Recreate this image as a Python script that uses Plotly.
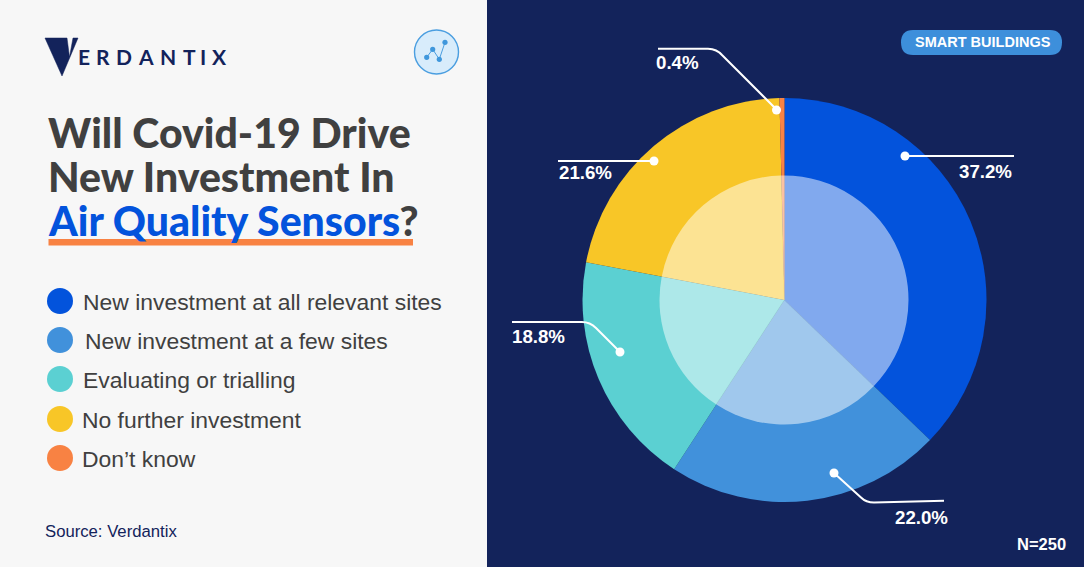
import plotly.graph_objects as go

W, H = 1084, 567
categories = ["New investment at all relevant sites", "New investment at a few sites",
              "Evaluating or trialling", "No further investment", "Don\u2019t know"]
values = [37.2, 22.0, 18.8, 21.6, 0.4]
value_labels = ["37.2%", "22.0%", "18.8%", "21.6%", "0.4%"]
colors = ["#0353DC", "#4191DB", "#5BD0D2", "#F8C627", "#F88243"]


def X(p):
    return p / W


def Y(p):
    return 1 - p / H


def dom(cx, cy, r):
    return dict(x=[X(cx - r), X(cx + r)], y=[Y(cy + r), Y(cy - r)])


CX, CY = 784.5, 300
fig = go.Figure()
common = dict(values=values, labels=categories, sort=False, direction="clockwise", rotation=0,
              textinfo="none", hoverinfo="label+value", showlegend=False)
fig.add_trace(go.Pie(domain=dom(CX, CY, 202), marker=dict(colors=colors, line=dict(width=0)), **common))
fig.add_trace(go.Pie(domain=dom(CX - 0.5, CY, 124.5),
                     marker=dict(colors=["rgba(255,255,255,0.5)"] * 5, line=dict(width=0)), **common))

shapes = []
ann = []


def rect(x0, y0, x1, y1, fill, layer="below"):
    shapes.append(dict(type="rect", xref="paper", yref="paper", x0=X(x0), x1=X(x1), y0=Y(y1), y1=Y(y0),
                       fillcolor=fill, line=dict(width=0), layer=layer))


def circle(cx, cy, r, fill, line=None, layer="above"):
    shapes.append(dict(type="circle", xref="paper", yref="paper", x0=X(cx - r), x1=X(cx + r),
                       y0=Y(cy + r), y1=Y(cy - r), fillcolor=fill,
                       line=dict(width=1.4 if line else 0, color=line or fill), layer=layer))


def path(cmds, color, width=2, fill=None, layer="above"):
    s = ""
    for c in cmds:
        s += c[0] + " " + " ".join(f"{X(c[i]):.5f},{Y(c[i + 1]):.5f}" for i in range(1, len(c), 2)) + " "
    if fill:
        s += "Z"
    shapes.append(dict(type="path", xref="paper", yref="paper", path=s,
                       line=dict(color=color, width=width), fillcolor=fill or "rgba(0,0,0,0)", layer=layer))


def text(x, y, t, size, color, anchor="left", font="Liberation Sans", bold=False, weight=None):
    f = dict(family=font, size=size, color=color)
    if weight:
        f["weight"] = weight
    ann.append(dict(xref="paper", yref="paper", x=X(x), y=Y(y), text=f"<b>{t}</b>" if bold else t,
                    showarrow=False, xanchor=anchor, yanchor="middle", align=anchor,
                    font=f, borderpad=0, borderwidth=0))


# panels
rect(0, 0, 487, H, "#F7F7F7")
rect(487, 0, W, H, "#13235B")

# logo
path([("M", 45, 38), ("L", 67, 38), ("L", 69.5, 57), ("L", 73, 38), ("L", 78, 38), ("L", 62, 76)],
     "#13235B", width=0.5, fill="#13235B")
for ch, cx in zip("ERDANTIX", [84, 103, 124, 146, 168, 189, 203, 219]):
    text(cx, 57, ch, 21, "#13235B", anchor="center", font="Lato", weight=700)

# icon
circle(436.5, 52, 22, "#D8ECFB", "#4A9EE0")
path([("M", 426.7, 57.3), ("L", 432.7, 49.3), ("L", 439.3, 59.3), ("L", 445, 42.3)], "#4A9EE0", width=1)
for px, py in [(426.7, 57.3), (432.7, 49.3), (439.3, 59.3), (445, 42.3)]:
    circle(px, py, 2.6, "#3F97DC")

# title
TF = "Lato"
TS = 41
text(48, 133, "Will Covid-19 Drive", TS, "#404040", font=TF, weight=900)
text(48, 177, "New Investment In", TS, "#404040", font=TF, weight=900)
text(48, 220, "<span style='color:#0353DC'>Air Quality Sensors</span>?", TS, "#404040", font=TF, weight=900)
rect(48.5, 239, 413, 245.5, "#F88243")

# legend
leg_y = [301, 340, 379, 419, 458]
leg_x = [83, 85, 83, 82, 82]
for name, col, ly, lx in zip(categories, colors, leg_y, leg_x):
    circle(60, ly, 13, col)
    text(lx, ly + 1, name, 22.9, "#404040")
text(45, 531, "Source: Verdantix", 16.7, "#13235B")

# leaders and labels
path([("M", 905, 156), ("L", 1014, 156)], "white")
circle(905, 156, 4.5, "white")
path([("M", 654, 161), ("L", 558, 161)], "white")
circle(654, 161, 4.5, "white")
path([("M", 658, 48.7), ("L", 708, 48.7), ("Q", 717, 49, 722, 55), ("L", 777, 110)], "white")
circle(776.5, 110, 4.5, "white")
path([("M", 512, 322), ("L", 582, 322), ("Q", 590, 322, 596, 328), ("L", 620, 352)], "white")
circle(620, 352, 4.5, "white")
path([("M", 834, 473), ("L", 861, 497.5), ("Q", 866, 502.5, 874, 502.5), ("L", 944, 500.7)], "white")
circle(834, 473, 4.5, "white")
positions = [(985, 171), (921, 517), (538, 336), (585, 173), (677, 62)]
for lab, (lx, ly) in zip(value_labels, positions):
    text(lx, ly, lab, 18.7, "white", anchor="center", bold=True)

# badge
shapes.append(dict(type="path", xref="paper", yref="paper", layer="below", fillcolor="#3D8FDB",
                   line=dict(width=0),
                   path=(f"M {X(913)},{Y(30)} L {X(1050)},{Y(30)} Q {X(1062)},{Y(30)} {X(1062)},{Y(42.5)} "
                         f"Q {X(1062)},{Y(55)} {X(1050)},{Y(55)} L {X(913)},{Y(55)} "
                         f"Q {X(901)},{Y(55)} {X(901)},{Y(42.5)} Q {X(901)},{Y(30)} {X(913)},{Y(30)} Z")))
text(983, 42, "SMART BUILDINGS", 14.5, "white", anchor="center", bold=True)
text(1066, 544, "N=250", 16.5, "white", anchor="right", bold=True)

fig.update_layout(width=W, height=H, margin=dict(l=0, r=0, t=0, b=0), autosize=False,
                  paper_bgcolor="#13235B", plot_bgcolor="#13235B", shapes=shapes, annotations=ann,
                  showlegend=False)
fig.write_html("out.html", config=dict(displayModeBar=False),
               post_script="document.body.style.margin='0';document.documentElement.style.overflow='hidden';")
